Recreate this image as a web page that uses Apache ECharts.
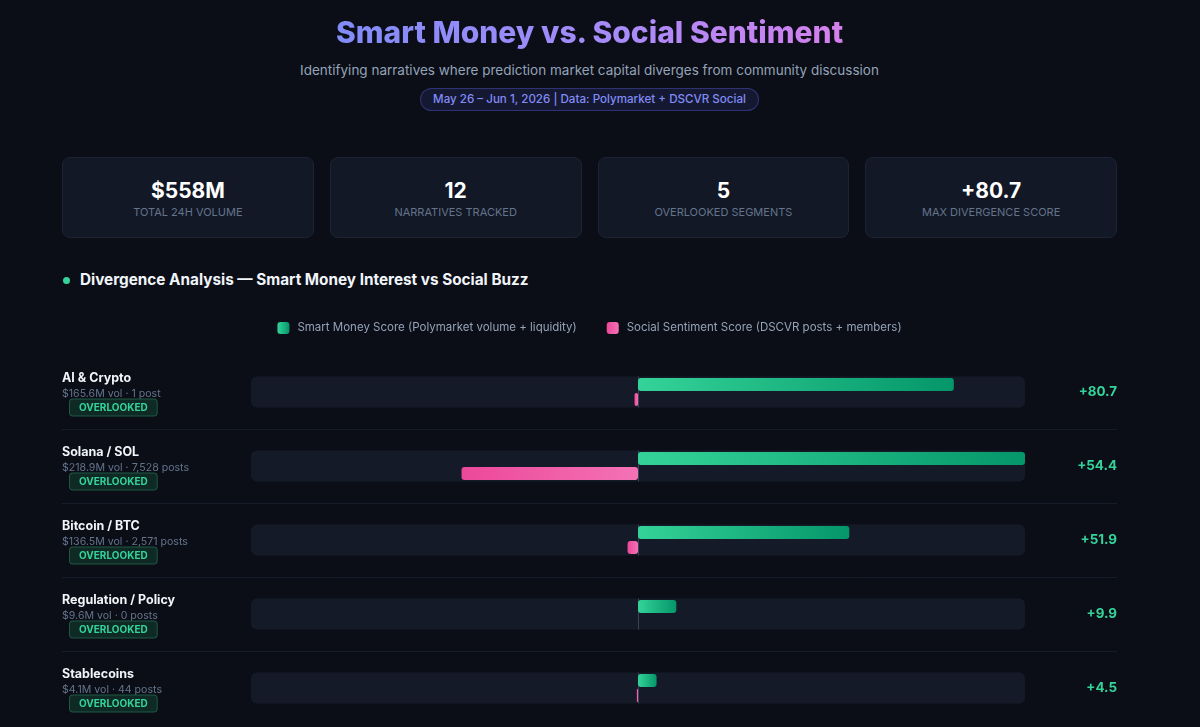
<!DOCTYPE html>
<html>
<head>
<meta charset="utf-8">
<title>Smart Money vs. Social Sentiment</title>
<script src="https://cdn.jsdelivr.net/npm/echarts@6/dist/echarts.min.js"></script>
<style>
  html, body { margin: 0; padding: 0; background: #0b0e17; width: 1200px; height: 727px; overflow: hidden; font-family: Inter, "Noto Sans", sans-serif; }
  .title { position: absolute; top: 12px; left: 62px; width: 1055px; text-align: center; }
  .title span { font-size: 30px; line-height: 40px; font-weight: 800;
    background: linear-gradient(90deg, #818cf8 0%, #a78bfa 55%, #d580ec 100%); -webkit-background-clip: text; background-clip: text; color: transparent; }
  .sub { position: absolute; top: 60px; left: 62px; width: 1055px; text-align: center; font-size: 13.5px; line-height: 20px; color: #94a3b8; }
  .pill-wrap { position: absolute; top: 87px; left: 62px; width: 1055px; text-align: center; }
  .pill { display: inline-block; box-sizing: border-box; height: 23px; line-height: 21px; padding: 0 12px; border-radius: 12px;
    border: 1px solid rgba(99, 102, 241, 0.35); background: rgba(99, 102, 241, 0.12); color: #818cf8; font-size: 11.6px; font-weight: 500; }
  .cards { position: absolute; top: 157px; left: 62px; width: 1055px; display: flex; gap: 16px; }
  .card { flex: 1; box-sizing: border-box; height: 81px; border-radius: 8px; background: #121826; border: 1px solid #1c2333;
    display: flex; flex-direction: column; align-items: center; justify-content: center; }
  .card .v { font-size: 21px; line-height: 26px; font-weight: 700; color: #ffffff; margin-top: 2px; }
  .card .l { margin-top: 1px; font-size: 11px; line-height: 14px; color: #64748b; text-transform: uppercase; }
  .section { position: absolute; top: 269px; left: 62px; height: 22px; display: flex; align-items: center; }
  .section .dot { width: 7px; height: 7px; border-radius: 50%; background: #34d399; margin-left: 1px; margin-right: 10px; }
  .section .t { font-size: 15.3px; line-height: 22px; font-weight: 700; color: #f1f5f9; }
  #chart { position: absolute; left: 62px; top: 300px; width: 1055px; height: 427px; }
</style>
</head>
<body>
<div class="title"><span>Smart Money vs. Social Sentiment</span></div>
<div class="sub">Identifying narratives where prediction market capital diverges from community discussion</div>
<div class="pill-wrap"><span class="pill">May 26 – Jun 1, 2026 | Data: Polymarket + DSCVR Social</span></div>
<div class="cards">
  <div class="card"><div class="v">$558M</div><div class="l">Total 24H Volume</div></div>
  <div class="card"><div class="v">12</div><div class="l">Narratives Tracked</div></div>
  <div class="card"><div class="v">5</div><div class="l">Overlooked Segments</div></div>
  <div class="card"><div class="v">+80.7</div><div class="l">Max Divergence Score</div></div>
</div>
<div class="section"><div class="dot"></div><div class="t">Divergence Analysis — Smart Money Interest vs Social Buzz</div></div>
<div id="chart"></div>
<script>
// Rows top to bottom, scores on a 0–100 scale (smart money right, social left).
const categories = ['AI & Crypto', 'Solana / SOL', 'Bitcoin / BTC', 'Regulation / Policy', 'Stablecoins'];
const volumes = ['$165.6M vol · 1 post', '$218.9M vol · 7,528 posts', '$136.5M vol · 2,571 posts', '$9.6M vol · 0 posts', '$4.1M vol · 44 posts'];
const smartScores = [81.6, 100, 54.6, 9.9, 4.8];
const socialScores = [0.9, 45.6, 2.7, 0, 0.3];
const divergence = [80.7, 54.4, 51.9, 9.9, 4.5];
const badge = 'OVERLOOKED';

const SMART = 'Smart Money Score (Polymarket volume + liquidity)';
const SOCIAL = 'Social Sentiment Score (DSCVR posts + members)';

const chart = echarts.init(document.getElementById('chart'), null, { renderer: 'canvas' });

const green = new echarts.graphic.LinearGradient(0, 0, 1, 0, [
  { offset: 0, color: '#34d399' }, { offset: 1, color: '#059669' }]);
const pink = new echarts.graphic.LinearGradient(0, 0, 1, 0, [
  { offset: 0, color: '#ec4899' }, { offset: 1, color: '#f472b6' }]);

// track + zero line + row divider, one per category
function renderTrack(params, api) {
  const i = api.value(1);
  const l = api.coord([-100, i]);
  const r = api.coord([100, i]);
  const c = api.coord([0, i]);
  const band = api.size([0, 1])[1];
  const kids = [
    { type: 'rect', shape: { x: l[0], y: c[1] - 15.5, width: r[0] - l[0], height: 31, r: 6 }, style: { fill: '#141a28' } },
    { type: 'line', shape: { x1: c[0] + 0.5, y1: c[1] - 15.5, x2: c[0] + 0.5, y2: c[1] + 15.5 }, style: { stroke: '#3a4254', lineWidth: 1 } },
  ];
  if (i > 0) {
    const y = Math.round(c[1] - band / 2) + 0.5;
    kids.push({ type: 'line', shape: { x1: 0, y1: y, x2: api.getWidth(), y2: y }, style: { stroke: '#161c2a', lineWidth: 1 } });
  }
  return { type: 'group', children: kids };
}

chart.setOption({
  animation: false,
  textStyle: { fontFamily: 'Inter, "Noto Sans", sans-serif' },
  legend: {
    data: [SMART, SOCIAL], top: 17, left: 'center', icon: 'roundRect',
    itemWidth: 12, itemHeight: 12, itemGap: 30, selectedMode: false,
    textStyle: { color: '#94a3b8', fontSize: 11.5, padding: [0, 0, 0, 3] },
  },
  grid: { left: 189, right: 92, top: 55, height: 370, containLabel: false, outerBoundsMode: 'none' },
  xAxis: { type: 'value', min: -100, max: 100, show: false },
  yAxis: [
    {
      type: 'category', data: categories, inverse: true,
      axisLine: { show: false }, axisTick: { show: false }, splitLine: { show: false },
      axisLabel: {
        align: 'left', margin: 189,
        formatter: (v, i) => `{name|${v}}\n{vol|${volumes[i]}}\n{sp| }{badge|${badge}}`,
        rich: {
          name: { fontSize: 12.5, fontWeight: 700, color: '#f1f5f9', lineHeight: 16 },
          vol: { fontSize: 10.6, color: '#64748b', lineHeight: 15 },
          sp: { width: 8, fontSize: 10 },
          badge: {
            fontSize: 10, fontWeight: 700, color: '#34d399', height: 13, lineHeight: 13,
            padding: [2, 9, 1, 9], backgroundColor: '#0f2a25', borderColor: '#1e5845', borderWidth: 1, borderRadius: 3,
          },
        },
      },
    },
    {
      type: 'category', data: categories, inverse: true, position: 'right',
      axisLine: { show: false }, axisTick: { show: false }, splitLine: { show: false },
      axisLabel: {
        align: 'right', margin: 92, fontSize: 13.4, fontWeight: 700, color: '#34d399',
        formatter: (v, i) => '+' + divergence[i].toFixed(1),
      },
    },
  ],
  series: [
    {
      type: 'custom', silent: true, z: 1, yAxisIndex: 0,
      data: categories.map((c, i) => [0, i]), encode: { x: 0, y: 1 },
      renderItem: renderTrack,
    },
    {
      name: SMART, type: 'bar', z: 3, yAxisIndex: 0, barWidth: 13, barGap: '15%',
      data: smartScores, itemStyle: { color: green, borderRadius: 3 },
    },
    {
      name: SOCIAL, type: 'bar', z: 3, yAxisIndex: 0, barWidth: 13, barGap: '15%',
      data: socialScores.map((v) => -v), itemStyle: { color: pink, borderRadius: 3 },
    },
  ],
});
</script>
</body>
</html>
